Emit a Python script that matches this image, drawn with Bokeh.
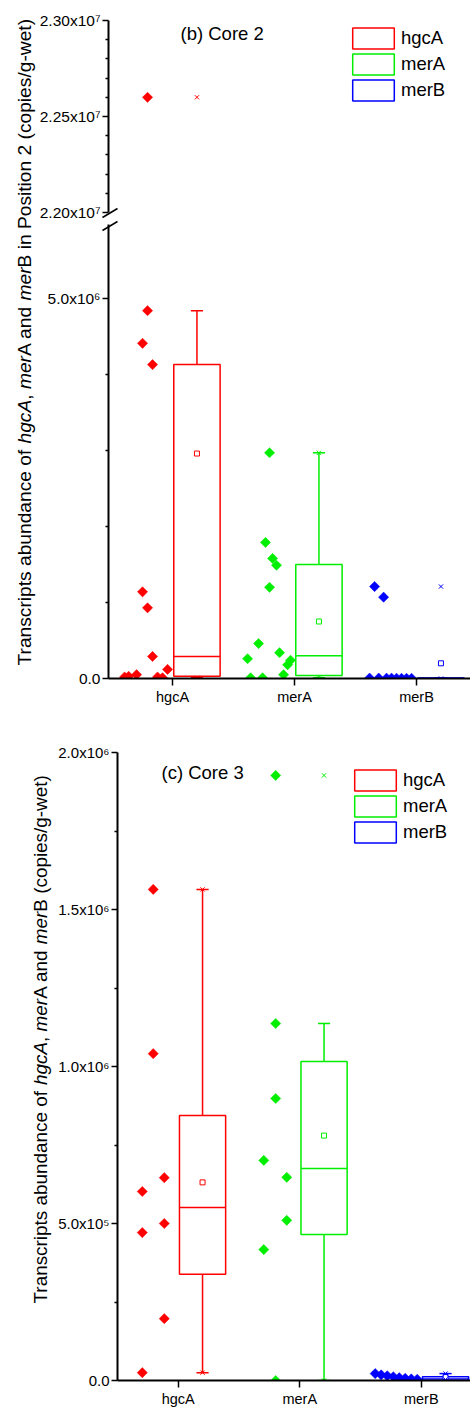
import numpy as np
from bokeh.plotting import figure
from bokeh.models import (Range1d, FixedTicker, ColumnDataSource, Label, Arrow,
                          Legend, LegendItem, LinearAxis, BoxAnnotation)
from bokeh.layouts import column
from bokeh.embed import file_html
from bokeh.resources import INLINE

# ------------------------------------------------------------------ data
genes = ["hgcA", "merA", "merB"]
gene_colors = ["#ff0000", "#00ee00", "#0000ff"]

# (b) Core 2 : individual values (copies/g-wet) and horizontal jitter (category units)
b_hgcA = [2.26e7, 4.84e6, 4.41e6, 4.13e6, 1.14e6, 0.93e6, 0.29e6, 0.12e6,
          0.02e6, 0.03e6, 0.05e6, 0.02e6, 0.01e6]
b_hgcA_jit = [-0.205, -0.205, -0.246, -0.164, -0.246, -0.205, -0.164, -0.041,
              -0.393, -0.36, -0.295, -0.123, -0.082]
b_merA = [2.97e6, 1.79e6, 1.58e6, 1.49e6, 1.20e6, 0.46e6, 0.34e6, 0.26e6,
          0.24e6, 0.18e6, 0.05e6, 0.01e6, 0.01e6]
b_merA_jit = [-0.205, -0.238, -0.18, -0.148, -0.205, -0.295, -0.123, -0.385,
              -0.033, -0.057, -0.09, -0.36, -0.262]
b_merB = [1.21e6, 1.07e6, 0.005e6, 0.005e6, 0.004e6, 0.004e6, 0.003e6,
          0.003e6, 0.002e6, 0.002e6]
b_merB_jit = [-0.344, -0.27, -0.385, -0.31, -0.246, -0.205, -0.164, -0.123,
              -0.082, -0.041]

# (b) box statistics per gene
b_q1 = [0.03e6, 0.04e6, 0.0]
b_median = [0.29e6, 0.30e6, 0.002e6]
b_q3 = [4.13e6, 1.50e6, 0.006e6]
b_mean = [2.96e6, 0.75e6, 0.20e6]
b_whisk_lo = [0.01e6, 0.01e6, 0.0]
b_whisk_hi = [4.84e6, 2.97e6, 0.01e6]
b_max = [2.26e7, 2.97e6, 1.21e6]
b_min = [0.01e6, 0.0, 0.0]

# (c) Core 3
c_hgcA = [1.564e6, 1.041e6, 0.646e6, 0.602e6, 0.500e6, 0.471e6, 0.197e6, 0.025e6]
c_hgcA_jit = [-0.206, -0.206, -0.115, -0.296, -0.115, -0.296, -0.115, -0.296]
c_merA = [1.927e6, 1.137e6, 0.898e6, 0.701e6, 0.647e6, 0.510e6, 0.417e6, 0.0]
c_merA_jit = [-0.198, -0.198, -0.198, -0.296, -0.107, -0.107, -0.296, -0.198]
c_merB = [0.022e6, 0.018e6, 0.015e6, 0.012e6, 0.009e6, 0.007e6, 0.005e6, 0.004e6]
c_merB_jit = [-0.379, -0.33, -0.28, -0.23, -0.181, -0.132, -0.082, -0.033]

c_q1 = [0.338e6, 0.465e6, 0.0]
c_median = [0.551e6, 0.675e6, 0.005e6]
c_q3 = [0.844e6, 1.016e6, 0.012e6]
c_mean = [0.631e6, 0.780e6, 0.011e6]
c_whisk_lo = [0.025e6, 0.0, 0.003e6]
c_whisk_hi = [1.564e6, 1.137e6, 0.022e6]
c_max = [1.564e6, 1.927e6, 0.022e6]
c_min = [0.025e6, 0.0, 0.003e6]

# tick labels
b_yticks_low = [0.0, 5.0e6]
b_ytick_low_text = ["0.0", "5.0x10\u2076"]
b_yticks_up = [2.20e7, 2.25e7, 2.30e7]
b_ytick_up_text = ["2.20x10\u2077", "2.25x10\u2077", "2.30x10\u2077"]
c_yticks = [0.0, 5.0e5, 1.0e6, 1.5e6, 2.0e6]
c_ytick_text = ["0.0", "5.0x10\u2075", "1.0x10\u2076", "1.5x10\u2076", "2.0x10\u2076"]

b_title = "(b) Core 2"
c_title = "(c) Core 3"
b_ylabel = [("Transcripts abundance of ", "normal"), ("hgcA", "italic"), (", ", "normal"),
            ("mer", "italic"), ("A and ", "normal"), ("mer", "italic"),
            ("B in Position 2 (copies/g-wet)", "normal")]
c_ylabel = [("Transcripts abundance of ", "normal"), ("hgcA", "italic"), (", ", "normal"),
            ("mer", "italic"), ("A and ", "normal"), ("mer", "italic"),
            ("B (copies/g-wet)", "normal")]

# ------------------------------------------------------------------ style helpers
FONT = "Liberation Sans"
BOX_OFF, BOX_HALF, CAP_HALF = 0.2, 0.19, 0.05
ADV = {' ': 278, 'T': 611, 'r': 333, 'a': 556, 'n': 556, 's': 500, 'c': 500, 'i': 222,
       'p': 556, 't': 278, 'b': 556, 'u': 556, 'd': 556, 'e': 556, 'o': 556, 'f': 278,
       'h': 556, 'g': 556, 'A': 667, ',': 278, 'm': 833, 'B': 667, 'P': 667, '2': 556,
       '(': 333, ')': 333, '/': 278, '-': 333, 'w': 722}


def text_w(s, fs):
    return sum(ADV[ch] for ch in s) / 1000.0 * fs


def style_yaxis(ya, fs, loc):
    ya.fixed_location = loc
    ya.axis_line_width = 2
    ya.major_tick_in = 0
    ya.major_tick_out = 6
    ya.minor_tick_in = 0
    ya.minor_tick_out = 3
    ya.major_tick_line_width = 1.5
    ya.minor_tick_line_width = 1.5
    ya.major_label_standoff = 2
    ya.major_label_text_font = FONT
    ya.major_label_text_font_size = fs
    ya.major_label_text_color = "black"


def style_xaxis(p, x_axis_at):
    p.xgrid.visible = False
    p.ygrid.visible = False
    p.outline_line_color = None
    xa = p.xaxis[0]
    xa.fixed_location = 0
    xa.bounds = (x_axis_at, p.x_range.end)
    xa.ticker = FixedTicker(ticks=[i + 1 for i in range(len(genes))])
    xa.major_label_overrides = {i + 1: g for i, g in enumerate(genes)}
    xa.axis_line_width = 2
    xa.major_tick_in = 0
    xa.major_tick_out = 7
    xa.major_tick_line_width = 1.5
    xa.minor_tick_line_color = None
    xa.major_label_standoff = 3
    xa.major_label_text_font = FONT
    xa.major_label_text_font_size = "14.5px"
    xa.major_label_text_color = "black"
    # hide whatever lies below the zero line (as in the original, points at 0 are cut)
    p.add_layout(BoxAnnotation(left=p.x_range.start, right=p.x_range.end,
                               bottom=p.y_range.start, top=0, fill_color="white",
                               fill_alpha=1.0, line_alpha=0, level="glyph"))


def add_points(p, vals, jit, gi, split=None):
    xs = [gi + 1 + j for j in jit]
    lo = [k for k, v in enumerate(vals) if split is None or v <= split]
    p.scatter([xs[k] for k in lo], [vals[k] for k in lo], marker="square",
              angle=np.pi / 4, size=7.2, fill_color=gene_colors[gi],
              line_color=gene_colors[gi], line_width=0.5)
    if split is not None:
        up = [k for k, v in enumerate(vals) if v > split]
        p.scatter([xs[k] for k in up], [vals[k] for k in up], marker="square",
                  angle=np.pi / 4, size=7.2, fill_color=gene_colors[gi],
                  line_color=gene_colors[gi], line_width=0.5, y_range_name="up")


def add_boxes(p, q1, med, q3, mean, wlo, whi, vmax, vmin, split=None):
    xc = [i + 1 + BOX_OFF for i in range(len(genes))]
    src = ColumnDataSource(dict(
        x=xc, left=[x - BOX_HALF for x in xc], right=[x + BOX_HALF for x in xc],
        capl=[x - CAP_HALF for x in xc], capr=[x + CAP_HALF for x in xc],
        q1=q1, med=med, q3=q3, mean=mean, wlo=wlo, whi=whi, color=gene_colors))
    kw = dict(line_color="color", line_width=1.5, source=src)
    p.segment(x0="x", x1="x", y0="q3", y1="whi", **kw)
    p.segment(x0="x", x1="x", y0="wlo", y1="q1", **kw)
    p.segment(x0="capl", x1="capr", y0="whi", y1="whi", **kw)
    p.segment(x0="capl", x1="capr", y0="wlo", y1="wlo", **kw)
    box = p.quad(left="left", right="right", bottom="q1", top="q3", fill_color="white", **kw)
    p.segment(x0="left", x1="right", y0="med", y1="med", **kw)
    p.scatter(x="x", y="mean", marker="square", size=5, fill_color="white",
              line_color="color", line_width=1, source=src)
    for vals in (vmax, vmin):
        lo = [i for i, v in enumerate(vals) if split is None or v <= split]
        p.scatter([xc[i] for i in lo], [vals[i] for i in lo], marker="x", size=6,
                  line_color=[gene_colors[i] for i in lo], line_width=1)
        if split is not None:
            up = [i for i, v in enumerate(vals) if v > split]
            if up:
                p.scatter([xc[i] for i in up], [vals[i] for i in up], marker="x", size=6,
                          line_color=[gene_colors[i] for i in up], line_width=1,
                          y_range_name="up")
    return box


def add_legend(p, box, loc):
    items = [LegendItem(label=g, renderers=[box], index=i) for i, g in enumerate(genes)]
    lg = Legend(items=items, location=loc, glyph_width=52, glyph_height=26, spacing=-7,
                padding=0, margin=0, label_standoff=2, label_height=20,
                border_line_color=None, background_fill_alpha=0, label_text_font=FONT,
                label_text_font_size="18.5px", label_text_color="black")
    p.add_layout(lg)


def add_ylabel(p, segs, xdata, ymap, start_py, fs):
    py = start_py
    for s, st in segs:
        p.add_layout(Label(x=xdata, y=ymap(py), text=s, angle=np.pi / 2,
                           text_align="left", text_baseline="middle",
                           text_font=FONT, text_font_size="%.1fpx" % fs,
                           text_font_style=st, text_color="black"))
        py -= text_w(s, fs)


# ------------------------------------------------------------------ panel (b)
B_W, B_H = 470, 720
B_AXIS_PX, B_TOP_PX, B_BOT_PX = 108, 20, 678        # page pixels of axes
B_X0, B_PPU = 0.475, 122.0                          # x at y-axis, px per category
B_LOW_PPV, B_UP_PPV = 76.0 / 1e6, 192.0 / 1e6        # px per copy, lower / upper part


def xb(px):
    return B_X0 + (px - B_AXIS_PX) / B_PPU


def yb(py):
    return (B_BOT_PX - py) / B_LOW_PPV


def ybu(py):
    return b_yticks_up[-1] - (py - B_TOP_PX) / B_UP_PPV


split_b = yb(224)

pb = figure(width=B_W, height=B_H, output_backend="svg", toolbar_location=None,
            x_range=Range1d(xb(0), xb(B_W)), y_range=Range1d(yb(B_H), yb(0)),
            min_border_left=0, min_border_right=0, min_border_top=0, min_border_bottom=0)
pb.extra_y_ranges = {"up": Range1d(ybu(B_H), ybu(0))}
style_xaxis(pb, B_X0)

ya_low = pb.yaxis[0]
style_yaxis(ya_low, "15.5px", B_X0)
ya_low.bounds = (0, yb(224))
ya_low.ticker = FixedTicker(ticks=b_yticks_low, minor_ticks=[k * 1e6 for k in range(1, 5)])
ya_low.major_label_overrides = {v: t for v, t in zip(b_yticks_low, b_ytick_low_text)}

ya_up = LinearAxis(y_range_name="up")
style_yaxis(ya_up, "15.5px", B_X0)
ya_up.bounds = (b_yticks_up[0], b_yticks_up[-1])
ya_up.ticker = FixedTicker(ticks=b_yticks_up,
                           minor_ticks=[b_yticks_up[0] + k * 1e5 for k in range(1, 10) if k != 5])
ya_up.major_label_overrides = {v: t for v, t in zip(b_yticks_up, b_ytick_up_text)}
pb.add_layout(ya_up, "left")

# "//" axis-break marks
for (a, b_, c, d) in [(102, 217, 117, 208), (102, 230, 117, 221)]:
    pb.add_layout(Arrow(end=None, x_start=xb(a), y_start=yb(b_), x_end=xb(c), y_end=yb(d),
                        line_width=1.5, line_color="black"))

for gi, (vals, jit) in enumerate([(b_hgcA, b_hgcA_jit), (b_merA, b_merA_jit), (b_merB, b_merB_jit)]):
    add_points(pb, vals, jit, gi, split=split_b)
box_b = add_boxes(pb, b_q1, b_median, b_q3, b_mean, b_whisk_lo, b_whisk_hi, b_max, b_min,
                  split=split_b)
add_legend(pb, box_b, (347, 617))
pb.add_layout(Label(x=xb(180), y=yb(33), text=b_title, text_font=FONT,
                    text_font_size="18.5px", text_baseline="middle", text_color="black"))
add_ylabel(pb, b_ylabel, xb(24), yb, 665, 19.2)

# ------------------------------------------------------------------ panel (c)
C_W, C_H = 470, 690
C_PAGE_TOP = B_H
C_AXIS_PX, C_TOP_PX, C_BOT_PX = 117, 752, 1380
C_X0, C_PPU = 0.5, 121.5
C_PPV = (C_BOT_PX - C_TOP_PX) / c_yticks[-1]


def xc_(px):
    return C_X0 + (px - C_AXIS_PX) / C_PPU


def yc_(py):
    return (C_BOT_PX - py) / C_PPV


pc = figure(width=C_W, height=C_H, output_backend="svg", toolbar_location=None,
            x_range=Range1d(xc_(0), xc_(C_W)),
            y_range=Range1d(yc_(C_PAGE_TOP + C_H), yc_(C_PAGE_TOP)),
            min_border_left=0, min_border_right=0, min_border_top=0, min_border_bottom=0)
style_xaxis(pc, C_X0)
ya_c = pc.yaxis[0]
style_yaxis(ya_c, "15px", C_X0)
ya_c.bounds = (0, c_yticks[-1])
ya_c.ticker = FixedTicker(ticks=c_yticks,
                          minor_ticks=[0.5 * (a + b) for a, b in zip(c_yticks[:-1], c_yticks[1:])])
ya_c.major_label_overrides = {v: t for v, t in zip(c_yticks, c_ytick_text)}

for gi, (vals, jit) in enumerate([(c_hgcA, c_hgcA_jit), (c_merA, c_merA_jit), (c_merB, c_merB_jit)]):
    add_points(pc, vals, jit, gi)
box_c = add_boxes(pc, c_q1, c_median, c_q3, c_mean, c_whisk_lo, c_whisk_hi, c_max, c_min)
add_legend(pc, box_c, (349, 565))
pc.add_layout(Label(x=xc_(161), y=yc_(772), text=c_title, text_font=FONT,
                    text_font_size="18.5px", text_baseline="middle", text_color="black"))
add_ylabel(pc, c_ylabel, xc_(40), yc_, 1303, 18.9)

layout = column(pb, pc)
open("out.html", "w").write(file_html(layout, INLINE))
